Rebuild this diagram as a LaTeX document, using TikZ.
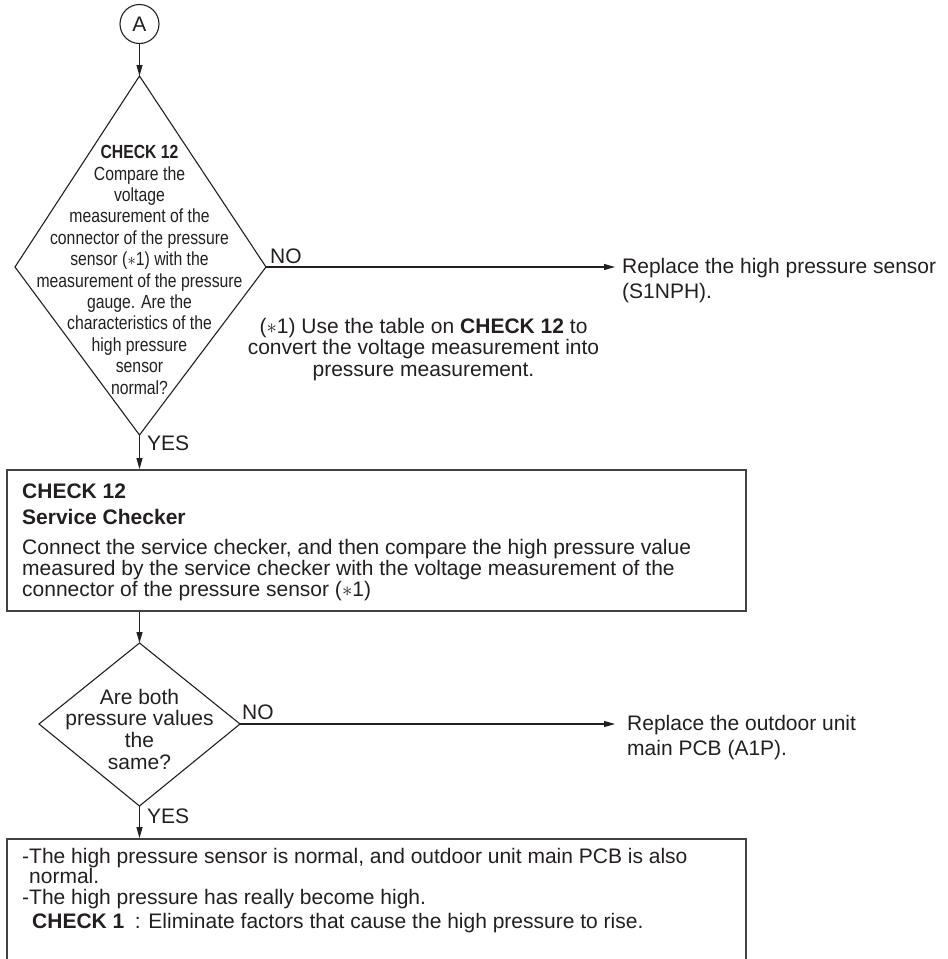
\documentclass[tikz,border=0pt]{standalone}
\usepackage{fontspec}
\setmainfont{Liberation Sans}
\newfontfamily\narrowfont[FakeStretch=0.83]{Liberation Sans}
\usetikzlibrary{arrows.meta,positioning}
\definecolor{InkGray}{RGB}{35,31,32}
\tikzset{
	flowline/.style={line width=1.1pt, draw=InkGray},
	flowarrow/.style={flowline, -{Triangle[length=11pt,width=6pt]}},
	framebox/.style={draw=InkGray!85, line width=1.8pt, inner sep=0pt},
	plaintext/.style={font=\fontsize{21}{21.5}\selectfont, text=InkGray, inner sep=0pt},
	condtext/.style={font=\narrowfont\fontsize{19}{21.4}\selectfont, text=InkGray, inner sep=0pt, align=center}
}

\begin{document}
\begin{tikzpicture}[x=1pt, y=-1pt]
		\useasboundingbox (0,0) rectangle (948,959);
		% 起点 A
		\node[circle, draw=InkGray, line width=1.1pt, minimum size=39pt, plaintext] (A) at (139.5,24) {A};
		% 判断一
		\coordinate (d1n) at (139.5,76);
		\coordinate (d1e) at (266,267);
		\coordinate (d1s) at (139.5,435);
		\coordinate (d1w) at (15,267);
		\draw[flowline] (d1n) -- (d1e) -- (d1s) -- (d1w) -- cycle;
		\node[condtext, anchor=north] (q1) at (139.5,145.2) {\textbf{CHECK 12}\\Compare the\\voltage\\measurement of the\\connector of the pressure\\sensor ($\ast$1) with the\\measurement of the pressure\\gauge. Are the\\characteristics of the\\high pressure\\sensor\\normal?};
		\draw[flowarrow] (A) -- (d1n);
		% NO：更换传感器
		\coordinate (hpend) at (615,267);
		\draw[flowarrow] (d1e) -- (hpend);
		\node[plaintext, anchor=base west] (no1) at (270,263) {NO};
		\node[plaintext, anchor=north west, align=left, font=\fontsize{21}{25}\selectfont] (hpsensor) at (622,258.4) {Replace the high pressure sensor\\(S1NPH).};
		\node[plaintext, anchor=north, align=center] (note) at (423.5,317.7) {($\ast$1) Use the table on \textbf{CHECK 12} to\\convert the voltage measurement into\\pressure measurement.};
		% YES：检查框
		\node[framebox, minimum width=739pt, minimum height=141pt] (chkbox) at (376.5,540.5) {};
		\draw[flowarrow] (d1s) -- (chkbox.north -| d1s);
		\node[plaintext, anchor=base west] (yes1) at (147,450) {YES};
		\node[plaintext, anchor=north west, align=left, font=\fontsize{21}{20.5}\selectfont] (chktxt) at (22,484) {\textbf{CHECK 12}\\[5.5pt]\textbf{Service Checker}\\[9.5pt]Connect the service checker, and then compare the high pressure value\\measured by the service checker with the voltage measurement of the\\[1pt]connector of the pressure sensor ($\ast$1)};
		% 判断二
		\coordinate (d2n) at (139.5,643);
		\coordinate (d2e) at (240,724);
		\coordinate (d2s) at (139.5,806);
		\coordinate (d2w) at (39,724);
		\draw[flowline] (d2n) -- (d2e) -- (d2s) -- (d2w) -- cycle;
		\draw[flowarrow] (chkbox.south -| d2n) -- (d2n);
		\node[plaintext, anchor=north, align=center, font=\fontsize{21}{21.7}\selectfont] (q2) at (139.5,688.7) {Are both\\pressure values\\the\\same?};
		\coordinate (pcbend) at (615,724);
		\draw[flowarrow] (d2e) -- (pcbend);
		\node[plaintext, anchor=base west] (no2) at (242,719) {NO};
		\node[plaintext, anchor=north west, align=left, font=\fontsize{21}{25}\selectfont] (pcb) at (627,715) {Replace the outdoor unit\\main PCB (A1P).};
		% 结论框
		\node[framebox, minimum width=739pt, minimum height=160pt] (resbox) at (376.5,919) {};
		\draw[flowarrow] (d2s) -- (resbox.north -| d2s);
		\node[plaintext, anchor=base west] (yes2) at (147,823) {YES};
		\node[plaintext, anchor=north west, align=left, font=\fontsize{21}{21}\selectfont] (restxt) at (22,847.7) {-The high pressure sensor is normal, and outdoor unit main PCB is also\\[-1pt]\phantom{-}normal.\\-The high pressure has really become high.\\[3pt]\phantom{-}\hspace*{3pt}\textbf{CHECK 1}\enspace: Eliminate factors that cause the high pressure to rise.};
	\end{tikzpicture}
\end{document}
